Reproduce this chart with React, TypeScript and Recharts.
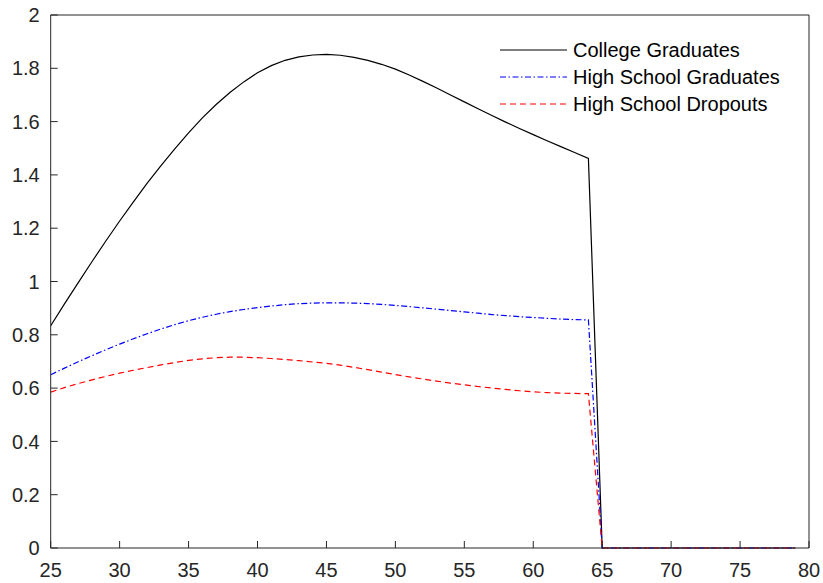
import React from "react";
import {
  LineChart,
  Line,
  XAxis,
  YAxis,
} from "recharts";

const AGES = [
  25, 26, 27, 28, 29, 30, 31, 32, 33, 34, 35, 36, 37, 38, 39, 40, 41, 42, 43, 44,
  45, 46, 47, 48, 49, 50, 51, 52, 53, 54, 55, 56, 57, 58, 59, 60, 61, 62, 63, 64,
  65, 66, 67, 68, 69, 70, 71, 72, 73, 74, 75, 76, 77, 78, 79,
];

const COLLEGE = [
  0.834, 0.916, 0.996, 1.075, 1.152, 1.227, 1.299, 1.369, 1.435, 1.498,
  1.558, 1.614, 1.664, 1.709, 1.749, 1.783, 1.81, 1.83, 1.843, 1.85,
  1.852, 1.849, 1.841, 1.83, 1.815, 1.797, 1.775, 1.751, 1.726, 1.7,
  1.674, 1.648, 1.623, 1.598, 1.574, 1.551, 1.528, 1.506, 1.484, 1.462,
  0, 0, 0, 0, 0, 0, 0, 0, 0, 0, 0, 0, 0, 0, 0,
];

const HS_GRAD = [
  0.65, 0.675, 0.699, 0.722, 0.744, 0.765, 0.785, 0.804, 0.822, 0.838,
  0.853, 0.866, 0.877, 0.887, 0.895, 0.902, 0.908, 0.913, 0.917, 0.919,
  0.92, 0.92, 0.919, 0.917, 0.914, 0.91, 0.906, 0.901, 0.896, 0.891,
  0.886, 0.881, 0.876, 0.872, 0.868, 0.865, 0.862, 0.859, 0.857, 0.856,
  0, 0, 0, 0, 0, 0, 0, 0, 0, 0, 0, 0, 0, 0, 0,
];

const HS_DROP = [
  0.585, 0.602, 0.617, 0.631, 0.644, 0.656, 0.667, 0.677, 0.687, 0.696,
  0.704, 0.71, 0.714, 0.716, 0.716, 0.714, 0.711, 0.707, 0.703, 0.698,
  0.693, 0.686, 0.678, 0.669, 0.66, 0.651, 0.642, 0.634, 0.626, 0.619,
  0.612, 0.606, 0.6, 0.595, 0.59, 0.586, 0.583, 0.581, 0.58, 0.579,
  0, 0, 0, 0, 0, 0, 0, 0, 0, 0, 0, 0, 0, 0, 0,
];

const X_TICKS = [25, 30, 35, 40, 45, 50, 55, 60, 65, 70, 75, 80];
const Y_TICKS = [0, 0.2, 0.4, 0.6, 0.8, 1, 1.2, 1.4, 1.6, 1.8, 2];

const SERIES = [
  { key: "college", name: "College Graduates", color: "#000000", dash: undefined as string | undefined },
  { key: "hsgrad", name: "High School Graduates", color: "#0000ff", dash: "6 2.5 1.5 2.5" },
  { key: "hsdrop", name: "High School Dropouts", color: "#ff0000", dash: "6 4" },
];

const data = AGES.map((age, i) => ({
  age,
  college: COLLEGE[i],
  hsgrad: HS_GRAD[i],
  hsdrop: HS_DROP[i],
}));

const AXIS = "#262626";
const FONT = "'Liberation Sans', Arial, Helvetica, sans-serif";

// legend sits inside the axes, top right, no box
function LegendBox() {
  return (
    <div
      style={{
        position: "absolute",
        left: 500,
        top: 37,
        fontFamily: FONT,
        fontSize: 20,
        color: "#000",
      }}
    >
      {SERIES.map((s) => (
        <div key={s.key} style={{ display: "flex", alignItems: "center", height: 26.7 }}>
          <svg width={68} height={10} style={{ display: "block" }}>
            <line
              x1={0}
              y1={5}
              x2={67}
              y2={5}
              stroke={s.color}
              strokeWidth={1.2}
              strokeDasharray={s.dash}
            />
          </svg>
          <span style={{ marginLeft: 5, lineHeight: "20px", whiteSpace: "nowrap" }}>{s.name}</span>
        </div>
      ))}
    </div>
  );
}

export default function App() {
  return (
    <div style={{ position: "absolute", left: 0, top: 0, width: 823, height: 583, background: "#fff" }}>
      <LineChart
        width={823}
        height={583}
        data={data}
        margin={{ top: 14, right: 13, bottom: 0, left: 0 }}
      >
        <XAxis
          dataKey="age"
          type="number"
          domain={[25, 80]}
          ticks={X_TICKS}
          allowDataOverflow
          height={35}
          tickSize={-7}
          tickMargin={22}
          stroke={AXIS}
          tick={{ fill: AXIS, fontSize: 20, fontFamily: FONT }}
        />
        <XAxis
          xAxisId="top"
          orientation="top"
          dataKey="age"
          type="number"
          domain={[25, 80]}
          ticks={X_TICKS}
          height={1}
          tickSize={-7}
          tick={false}
          stroke={AXIS}
        />
        <YAxis
          type="number"
          domain={[0, 2]}
          ticks={Y_TICKS}
          width={50.7}
          tickSize={-7}
          tickMargin={18}
          stroke={AXIS}
          tickFormatter={(v: number) => String(+v.toFixed(1))}
          tick={{ fill: AXIS, fontSize: 20, fontFamily: FONT }}
        />
        <YAxis
          yAxisId="right"
          orientation="right"
          type="number"
          domain={[0, 2]}
          ticks={Y_TICKS}
          width={1}
          tickSize={-7}
          tick={false}
          stroke={AXIS}
        />
        {SERIES.map((s) => (
          <Line
            key={s.key}
            dataKey={s.key}
            name={s.name}
            type="linear"
            stroke={s.color}
            strokeWidth={1.2}
            strokeDasharray={s.dash}
            dot={false}
            activeDot={false}
            isAnimationActive={false}
          />
        ))}
      </LineChart>
      <LegendBox />
    </div>
  );
}
